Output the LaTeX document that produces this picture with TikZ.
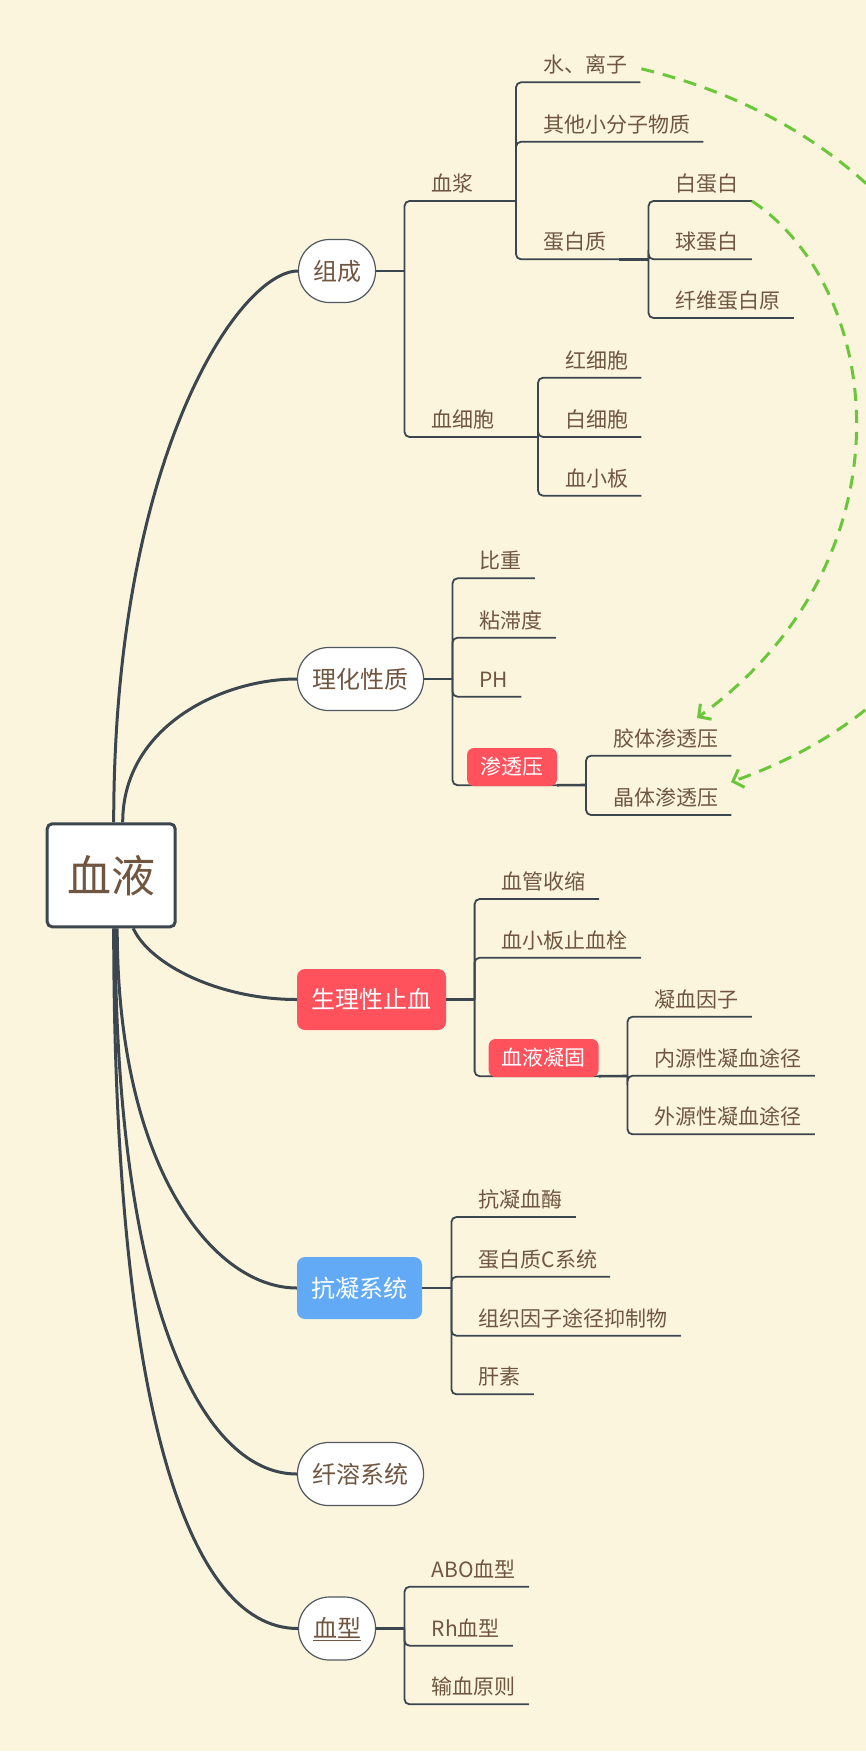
\documentclass[tikz,border=0pt]{standalone}
\usepackage{fontspec}
\setmainfont{Noto Sans CJK SC}
\usetikzlibrary{calc,arrows.meta}
\definecolor{bgc}{RGB}{251,245,222}
\definecolor{linec}{RGB}{60,70,79}
\definecolor{txtc}{RGB}{112,86,64}
\definecolor{redc}{RGB}{255,82,93}
\definecolor{bluec}{RGB}{98,170,246}
\definecolor{greenc}{RGB}{107,199,58}
\definecolor{bordc}{RGB}{80,88,96}
\pgfdeclarelayer{back}
\pgfdeclarelayer{lines}
\pgfsetlayers{back,lines,main}
\newcommand{\lf}[5]{%
  \node[leaf] (#1) at ({#3+27},{#4-9.5}) {#5};
  \begin{pgfonlayer}{lines}
  \draw[branch] (#2) |- ($(#1.base east)+(13,9.5)$);
  \end{pgfonlayer}}
\begin{document}
\begin{tikzpicture}[x=1pt,y=-1pt,
  leaf/.style={anchor=base west, inner sep=0pt, text=txtc,
    font=\fontsize{21pt}{25pt}\selectfont, text height=17.4pt, text depth=1.5pt},
  topic/.style={draw=bordc, line width=1.2pt, fill=white, rounded corners=31pt,
    inner sep=0pt, text=txtc, font=\fontsize{24pt}{28pt}\selectfont,
    text height=20pt, text depth=1.7pt, minimum height=63pt},
  redtopic/.style={fill=redc, rounded corners=8pt, inner sep=0pt, text=white,
    font=\fontsize{24pt}{28pt}\selectfont, text height=20pt, text depth=1.7pt},
  bluetopic/.style={redtopic, fill=bluec},
  subbox/.style={fill=redc, rounded corners=7pt, inner sep=0pt, text=white,
    font=\fontsize{21pt}{25pt}\selectfont, text height=17.4pt, text depth=1.5pt,
    minimum height=38pt},
  rootbox/.style={draw=linec, line width=3pt, fill=white, rounded corners=5pt,
    minimum width=128pt, minimum height=103pt, inner sep=0pt, text=txtc,
    font=\fontsize{44pt}{50pt}\selectfont, text height=36.5pt, text depth=3.1pt},
  main/.style={draw=linec, line width=3pt},
  conn/.style={draw=linec, line width=2.6pt},
  branch/.style={draw=linec, line width=1.8pt, rounded corners=5pt},
  link/.style={draw=greenc, line width=3pt, dash pattern=on 13pt off 9pt,
    -{Straight Barb[length=9pt,width=19pt]}}
]
\useasboundingbox (0,0) rectangle (866,1762);
\begin{pgfonlayer}{back}
\fill[bgc] (0,0) rectangle (866,1751);
\fill[white] (0,1751) rectangle (866,1762);
\end{pgfonlayer}

% root and main topics
\node[rootbox] (root) at (111.2,875.3) {血液};
\node[topic, minimum width=77pt] (n1) at (337,271) {组成};
\node[topic, minimum width=126pt] (n2) at (360.5,679) {理化性质};
\node[redtopic, minimum width=149pt, minimum height=61pt] (n3) at (371.5,999.5) {生理性止血};
\node[bluetopic, minimum width=125pt, minimum height=62pt] (n4) at (359.5,1288) {抗凝系统};
\node[topic, minimum width=126pt] (n5) at (360.5,1474) {纤溶系统};
\node[topic, minimum width=77pt] (n6) at (337,1628.5) {\underline{血型}};

% sub boxes
\node[subbox, minimum width=90pt] (s1) at (512,767) {渗透压};
\node[subbox, minimum width=110pt] (s2) at (543.6,1058) {血液凝固};

% junction coordinates
\coordinate (v1) at (404.5,271);
\coordinate (v1a) at (516,201);
\coordinate (v1b) at (648.5,259.3);
\coordinate (v1c) at (538,437);
\coordinate (v2) at (452.5,679);
\coordinate (v2a) at (586,785);
\coordinate (v3) at (474.6,999.5);
\coordinate (v3a) at (627.5,1076);
\coordinate (v4) at (451.4,1288);
\coordinate (v6) at (404.5,1628.5);

% leaves
\lf{xj}{v1}{404.5}{201}{血浆}
\lf{xxb}{v1}{404.5}{437}{血细胞}
\lf{w1}{v1a}{516}{82.3}{水、离子}
\lf{w2}{v1a}{516}{141.7}{其他小分子物质}
\lf{dbz}{v1a}{516}{259.3}{蛋白质}
\lf{b1}{v1b}{648.5}{201}{白蛋白}
\lf{b2}{v1b}{648.5}{259.3}{球蛋白}
\lf{b3}{v1b}{648.5}{318}{纤维蛋白原}
\lf{c1}{v1c}{538}{377.7}{红细胞}
\lf{c2}{v1c}{538}{437}{白细胞}
\lf{c3}{v1c}{538}{495.7}{血小板}
\lf{p1}{v2}{452.5}{578.3}{比重}
\lf{p2}{v2}{452.5}{637.7}{粘滞度}
\lf{p3}{v2}{452.5}{696.7}{PH}
\lf{o1}{v2a}{586}{755.7}{胶体渗透压}
\lf{o2}{v2a}{586}{815}{晶体渗透压}
\lf{h1}{v3}{474.6}{899}{血管收缩}
\lf{h2}{v3}{474.6}{957.7}{血小板止血栓}
\lf{g1}{v3a}{627.5}{1016.7}{凝血因子}
\lf{g2}{v3a}{627.5}{1075.7}{内源性凝血途径}
\lf{g3}{v3a}{627.5}{1134.3}{外源性凝血途径}
\lf{k1}{v4}{451.4}{1217}{抗凝血酶}
\lf{k2}{v4}{451.4}{1276.7}{蛋白质C系统}
\lf{k3}{v4}{451.4}{1335.7}{组织因子途径抑制物}
\lf{k4}{v4}{451.4}{1394.3}{肝素}
\lf{t1}{v6}{404.5}{1586.7}{ABO血型}
\lf{t2}{v6}{404.5}{1645.7}{Rh血型}
\lf{t3}{v6}{404.5}{1704.3}{输血原则}

\begin{pgfonlayer}{lines}
% main curves
\draw[main] ([xshift=2.5pt]root.north) .. controls (113.7,454) and (240,271) .. (n1.west);
\draw[main] ([xshift=11.5pt]root.north) .. controls (122.7,727) and (221,679) .. (n2.west);
\draw[main] ([xshift=22pt]root.south) .. controls (150,965) and (220,999.5) .. (n3.west);
\draw[main] ([xshift=6pt]root.south) .. controls (117.2,1169) and (214,1288) .. (n4.west);
\draw[main] ([xshift=4pt]root.south) .. controls (115.2,1293) and (198,1474) .. (n5.west);
\draw[main] ([xshift=2.5pt]root.south) .. controls (113.7,1396) and (185,1628.5) .. (n6.west);
% topic to junction
\draw[conn] (n1.east) -- (v1);
\draw[conn] (n2.east) -- (v2);
\draw[conn] (n3.east) -- (v3);
\draw[conn] (n4.east) -- (v4);
\draw[conn] (n6.east) -- (v6);
\draw[conn] ($(xj.base east)+(13,9.5)$) -- (v1a);
\draw[conn] ($(dbz.base east)+(13,9.5)$) -- (v1b);
\draw[conn] ($(xxb.base east)+(13,9.5)$) -- (v1c);
% box branches
\draw[branch] (v2) |- ($(s1.south east)+(0,-1)$);
\draw[branch] (v3) |- ($(s2.south east)+(0,-1)$);
\draw[conn] ($(s1.south east)+(0,-1)$) -- (v2a);
\draw[conn] ($(s2.south east)+(0,-1)$) -- (v3a);
\end{pgfonlayer}

% green relationship links
\coordinate (e1) at (731,782);
\coordinate (e2) at (697,718);
\begin{scope}
\clip (0,0) rectangle (866,1762);
\draw[link] ($(w1.base east)+(14,-4)$) .. controls (1060,170) and (1120,645) .. (e1);
\draw[link] ($(b1.base east)+(13,9.5)$) .. controls (885,290) and (915,560) .. (e2);
\end{scope}
\end{tikzpicture}
\end{document}
